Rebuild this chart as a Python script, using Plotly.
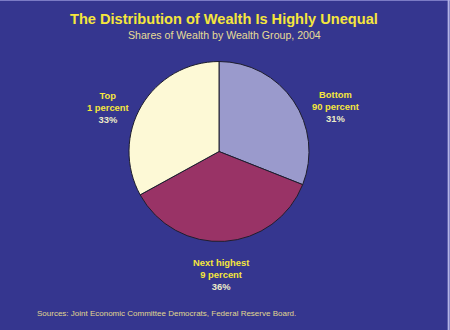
import plotly.graph_objects as go

# Wealth shares by group, 2004 (percent)
groups = ["Bottom", "Next highest", "Top"]
group_desc = ["90 percent", "9 percent", "1 percent"]
shares = [31, 36, 33]
slice_colors = ["#9a9acc", "#993366", "#fdf9d6"]

# Label anchor points (paper coords) for each group's caption
label_x = [335.5 / 450, 221 / 450, 107.5 / 450]
label_y = [1 - 106 / 330, 1 - 274 / 330, 1 - 107.5 / 330]

W, H = 450, 330
BG = "#35368f"
YELLOW = "#f5e63c"
PALE = "#ecebc8"
FONT = "Liberation Sans, Arial, sans-serif"

cx, cy, r = 219, 151.5, 90

fig = go.Figure(
    go.Pie(
        labels=groups,
        values=shares,
        sort=False,
        direction="clockwise",
        rotation=0,
        textinfo="none",
        hoverinfo="label+percent",
        marker=dict(colors=slice_colors, line=dict(color="#1e1e2e", width=1)),
        domain=dict(
            x=[(cx - r) / W, (cx + r) / W],
            y=[1 - (cy + r) / H, 1 - (cy - r) / H],
        ),
        showlegend=False,
    )
)

annotations = [
    dict(
        text="<b>The Distribution of Wealth Is Highly Unequal</b>",
        x=224 / W, y=1 - 19 / H, xref="paper", yref="paper",
        xanchor="center", yanchor="middle", showarrow=False,
        font=dict(family=FONT, size=14.6, color=YELLOW),
    ),
    dict(
        text="Shares of Wealth by Wealth Group, 2004",
        x=224.5 / W, y=1 - 35 / H, xref="paper", yref="paper",
        xanchor="center", yanchor="middle", showarrow=False,
        font=dict(family=FONT, size=10.6, color="#e6dc96"),
    ),
    dict(
        text="Sources: Joint Economic Committee Democrats, Federal Reserve Board.",
        x=35 / W, y=1 - 313 / H, xref="paper", yref="paper",
        xanchor="left", yanchor="middle", showarrow=False,
        font=dict(family=FONT, size=8, color="#e0d690"),
    ),
]

for g, d, s, lx, ly in zip(groups, group_desc, shares, label_x, label_y):
    annotations.append(
        dict(
            text=(
                f"<b>{g}</b><br><b>{d}</b><br>"
                f"<b><span style='color:{PALE}'>{s}%</span></b>"
            ),
            x=lx, y=ly, xref="paper", yref="paper",
            xanchor="center", yanchor="middle", align="center",
            showarrow=False,
            font=dict(family=FONT, size=9.4, color=YELLOW),
        )
    )

fig.update_layout(
    width=W,
    height=H,
    margin=dict(l=0, r=0, t=0, b=0),
    paper_bgcolor=BG,
    plot_bgcolor=BG,
    annotations=annotations,
    shapes=[
        dict(type="line", xref="paper", yref="paper", x0=0, x1=1, y0=0.999, y1=0.999,
             line=dict(color="#8a8ad0", width=1)),
        dict(type="line", xref="paper", yref="paper", x0=0.997, x1=0.997, y0=0, y1=1,
             line=dict(color="#b4b4e6", width=2)),
    ],
)

fig.write_html("out.html")
